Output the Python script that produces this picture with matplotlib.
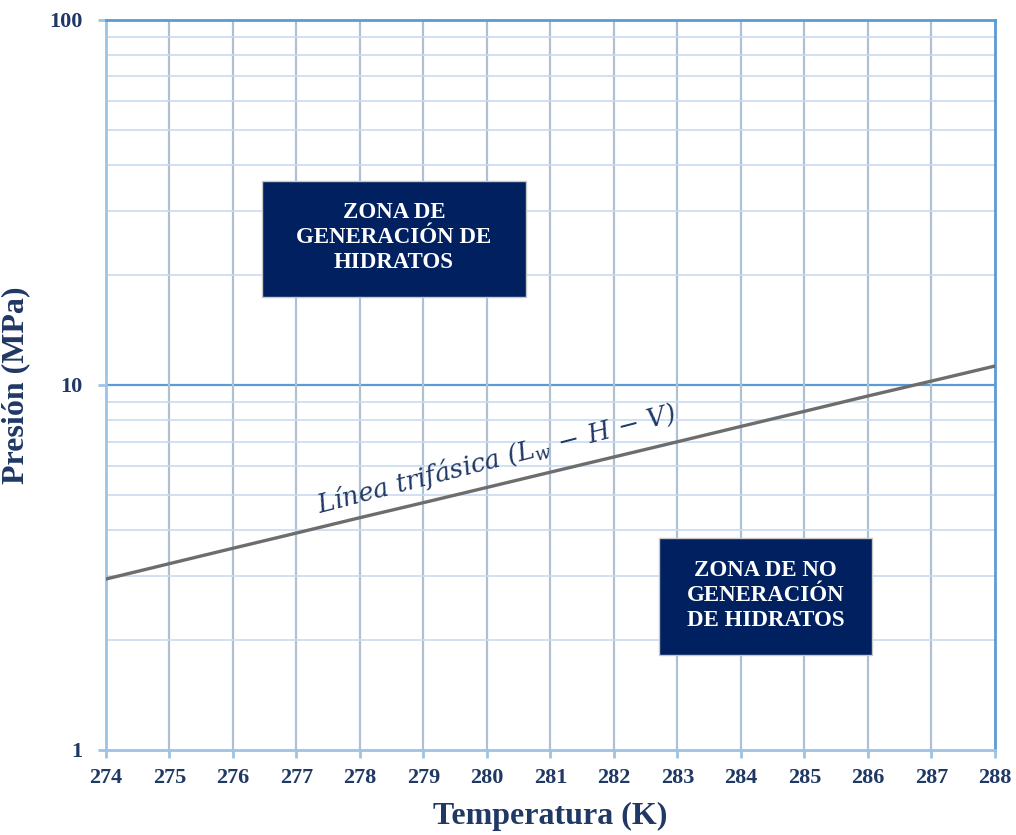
import matplotlib
matplotlib.use('Agg')
import matplotlib.pyplot as plt
from matplotlib.patches import Rectangle
from matplotlib.ticker import FixedLocator, NullFormatter

# curva de equilibrio trifasico
temperatura = [274, 275, 276, 277, 278, 279, 280, 281, 282, 283, 284, 285, 286, 287, 288]
presion = [2.94, 3.24, 3.57, 3.93, 4.33, 4.76, 5.24, 5.77, 6.35, 6.99, 7.70, 8.47, 9.33, 10.25, 11.27]

x_ticks = list(range(274, 289))
y_ticks = [1, 10, 100]
y_labels = ['1', '10', '100']

navy = '#002060'
txt = '#1f3864'

plt.rcParams['font.family'] = ['Liberation Serif', 'DejaVu Serif']
plt.rcParams['mathtext.fontset'] = 'dejavuserif'

fig = plt.figure(figsize=(10.16, 8.35), dpi=100)
ax = fig.add_axes([0.1043, 0.1018, 0.8750, 0.8743])

ax.set_yscale('log')
ax.set_xlim(274, 288)
ax.set_ylim(1, 100)

# rejilla
ax.yaxis.set_minor_locator(FixedLocator([m * d for d in (1, 10) for m in range(2, 10)]))
ax.yaxis.set_minor_formatter(NullFormatter())
ax.grid(True, which='minor', axis='y', color='#c9dcf0', lw=1.2, zorder=0)
ax.axhline(10, color='#5b9bd5', lw=1.6, zorder=1)
for t in x_ticks[1:-1]:
    ax.axvline(t, color='#aec0d3', lw=1.6, zorder=1)

for s in ['left', 'bottom']:
    ax.spines[s].set_color('#9dc3e6')
    ax.spines[s].set_linewidth(2)
for s in ['top', 'right']:
    ax.spines[s].set_color('#5b9bd5')
    ax.spines[s].set_linewidth(2)

ax.set_xticks(x_ticks)
ax.set_yticks(y_ticks)
ax.set_yticklabels(y_labels)
ax.tick_params(axis='both', which='major', color='#9dc3e6', width=2, length=6,
               labelsize=16, labelcolor=txt)
ax.tick_params(axis='x', pad=7)
ax.tick_params(axis='y', pad=11)
ax.tick_params(axis='y', which='minor', length=0)
for lab in ax.get_xticklabels() + ax.get_yticklabels():
    lab.set_fontweight('bold')

ax.plot(temperatura, presion, color='#6d6d6d', lw=2.4, zorder=3)

ax.text(280.15, 6.3, 'Línea trifásica ($L_w\\,-\\,H\\,-\\,V$)', rotation=14.5, style='italic',
        fontsize=18.5, color=txt, ha='center', va='center', family='DejaVu Serif', zorder=4)

# recuadros de zonas
ax.add_patch(Rectangle((276.46, 17.4), 4.15, 36.2 - 17.4, facecolor=navy,
                       edgecolor='#c8c8c8', lw=1, zorder=5))
ax.text(278.535, 25.3, 'ZONA DE\nGENERACIÓN DE\nHIDRATOS', color='white', fontsize=16.5,
        fontweight='bold', ha='center', va='center', linespacing=1.25, zorder=6)

ax.add_patch(Rectangle((282.71, 1.82), 3.35, 3.81 - 1.82, facecolor=navy,
                       edgecolor='#c8c8c8', lw=1, zorder=5))
ax.text(284.385, 2.65, 'ZONA DE NO\nGENERACIÓN\nDE HIDRATOS', color='white', fontsize=16.5,
        fontweight='bold', ha='center', va='center', linespacing=1.25, zorder=6)

ax.set_xlabel('Temperatura (K)', fontsize=23, fontweight='bold', color=txt, labelpad=10)
ax.set_ylabel('Presión (MPa)', fontsize=23, fontweight='bold', color=txt)
ax.yaxis.set_label_coords(-0.085, 0.5)

fig.savefig('out.png', dpi=100)
